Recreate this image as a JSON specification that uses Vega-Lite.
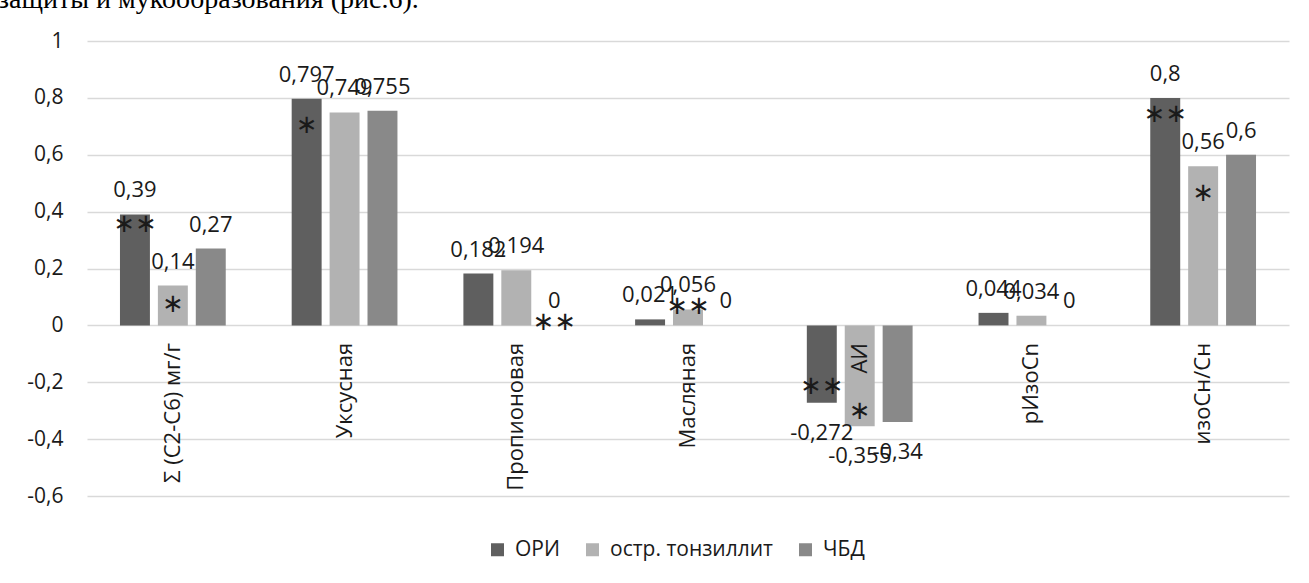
{
  "$schema": "https://vega.github.io/schema/vega-lite/v6.json",
  "width": 1202,
  "height": 455,
  "autosize": {"type": "none"},
  "padding": {"left": 87, "top": 41, "right": 20, "bottom": 87},
  "background": "white",
  "config": {
    "locale": {"number": {"decimal": ",", "thousands": " ", "grouping": [3], "currency": ["", ""], "minus": "-"}},
    "view": {"stroke": null},
    "font": "Open Sans"
  },
  "title": {
    "text": "защиты и мукообразования (рис.6).",
    "anchor": "start",
    "frame": "group",
    "font": "Liberation Serif",
    "fontSize": 28,
    "fontWeight": "normal",
    "color": "#000000",
    "baseline": "alphabetic",
    "offset": -6,
    "dx": -89
  },
  "datasets": {
    "bars": [
      {"cat": "Σ (С2-С6) мг/г", "grp": "ОРИ", "v": 0.39},
      {"cat": "Σ (С2-С6) мг/г", "grp": "остр. тонзиллит", "v": 0.14},
      {"cat": "Σ (С2-С6) мг/г", "grp": "ЧБД", "v": 0.27},
      {"cat": "Уксусная", "grp": "ОРИ", "v": 0.797},
      {"cat": "Уксусная", "grp": "остр. тонзиллит", "v": 0.749},
      {"cat": "Уксусная", "grp": "ЧБД", "v": 0.755},
      {"cat": "Пропионовая", "grp": "ОРИ", "v": 0.182},
      {"cat": "Пропионовая", "grp": "остр. тонзиллит", "v": 0.194},
      {"cat": "Пропионовая", "grp": "ЧБД", "v": 0},
      {"cat": "Масляная", "grp": "ОРИ", "v": 0.021},
      {"cat": "Масляная", "grp": "остр. тонзиллит", "v": 0.056},
      {"cat": "Масляная", "grp": "ЧБД", "v": 0},
      {"cat": "АИ", "grp": "ОРИ", "v": -0.272},
      {"cat": "АИ", "grp": "остр. тонзиллит", "v": -0.355},
      {"cat": "АИ", "grp": "ЧБД", "v": -0.34},
      {"cat": "рИзоСn", "grp": "ОРИ", "v": 0.044},
      {"cat": "рИзоСn", "grp": "остр. тонзиллит", "v": 0.034},
      {"cat": "рИзоСn", "grp": "ЧБД", "v": 0},
      {"cat": "изоСн/Сн", "grp": "ОРИ", "v": 0.8},
      {"cat": "изоСн/Сн", "grp": "остр. тонзиллит", "v": 0.56},
      {"cat": "изоСн/Сн", "grp": "ЧБД", "v": 0.6}
    ],
    "sig": [
      {"cat": "Σ (С2-С6) мг/г", "grp": "ОРИ", "sig": "∗∗", "at": 0.355},
      {"cat": "Σ (С2-С6) мг/г", "grp": "остр. тонзиллит", "sig": "∗", "at": 0.074},
      {"cat": "Уксусная", "grp": "ОРИ", "sig": "∗", "at": 0.703},
      {"cat": "Пропионовая", "grp": "ЧБД", "sig": "∗∗", "at": 0.012},
      {"cat": "Масляная", "grp": "остр. тонзиллит", "sig": "∗∗", "at": 0.069},
      {"cat": "АИ", "grp": "ОРИ", "sig": "∗∗", "at": -0.214},
      {"cat": "АИ", "grp": "остр. тонзиллит", "sig": "∗", "at": -0.302},
      {"cat": "изоСн/Сн", "grp": "ОРИ", "sig": "∗∗", "at": 0.742},
      {"cat": "изоСн/Сн", "grp": "остр. тонзиллит", "sig": "∗", "at": 0.464}
    ]
  },
  "encoding": {
    "x": {
      "field": "cat",
      "type": "nominal",
      "sort": ["Σ (С2-С6) мг/г", "Уксусная", "Пропионовая", "Масляная", "АИ", "рИзоСn", "изоСн/Сн"],
      "scale": {"paddingInner": 0.384, "paddingOuter": 0.192},
      "axis": {
        "title": null,
        "orient": "bottom",
        "offset": -170.6,
        "domain": false,
        "ticks": false,
        "tickSize": 0,
        "labelAngle": -90,
        "labelPadding": 17,
        "labelFontSize": 22,
        "labelColor": "#1a1a1a",
        "labelFont": "Open Sans",
        "zindex": 1
      }
    },
    "xOffset": {
      "field": "grp",
      "type": "nominal",
      "sort": ["ОРИ", "остр. тонзиллит", "ЧБД"],
      "scale": {"paddingInner": 0.21, "paddingOuter": 0}
    },
    "y": {
      "field": "v",
      "type": "quantitative",
      "scale": {"domain": [-0.6, 1], "nice": false, "zero": false},
      "axis": {
        "title": null,
        "values": [-0.6, -0.4, -0.2, 0, 0.2, 0.4, 0.6, 0.8, 1],
        "format": ".1~f",
        "domain": false,
        "ticks": false,
        "tickSize": 0,
        "labelPadding": 24,
        "labelFontSize": 21,
        "labelColor": "#1a1a1a",
        "labelFont": "Open Sans",
        "grid": true,
        "gridColor": "#d9d9d9",
        "gridWidth": 1.5
      }
    }
  },
  "layer": [
    {
      "data": {"name": "bars"},
      "mark": {"type": "bar"},
      "encoding": {
        "color": {
          "field": "grp",
          "type": "nominal",
          "sort": ["ОРИ", "остр. тонзиллит", "ЧБД"],
          "scale": {"domain": ["ОРИ", "остр. тонзиллит", "ЧБД"], "range": ["#5f5f5f", "#b2b2b2", "#898989"]},
          "legend": {
            "orient": "none",
            "legendX": 400,
            "legendY": 498,
            "direction": "horizontal",
            "title": null,
            "symbolType": "square",
            "symbolSize": 169,
            "symbolStrokeWidth": 0,
            "labelFontSize": 21,
            "labelFont": "Open Sans",
            "labelColor": "#1a1a1a",
            "labelOffset": 7,
            "labelLimit": 0,
            "columnPadding": 22
          }
        }
      }
    },
    {
      "data": {"name": "bars"},
      "transform": [{"filter": "datum.v >= 0"}],
      "mark": {"type": "text", "baseline": "alphabetic", "dy": -17, "fontSize": 22, "color": "#1a1a1a"},
      "encoding": {"text": {"field": "v", "type": "quantitative", "format": ".3~f"}}
    },
    {
      "data": {"name": "bars"},
      "transform": [{"filter": "datum.v < 0"}],
      "mark": {"type": "text", "baseline": "alphabetic", "dy": 37, "fontSize": 22, "color": "#1a1a1a"},
      "encoding": {"text": {"field": "v", "type": "quantitative", "format": ".3~f"}}
    },
    {
      "data": {"name": "sig"},
      "mark": {"type": "text", "baseline": "middle", "font": "DejaVu Sans", "fontSize": 26, "color": "#1a1a1a"},
      "encoding": {
        "y": {"field": "at", "type": "quantitative"},
        "text": {"field": "sig"}
      }
    }
  ]
}
